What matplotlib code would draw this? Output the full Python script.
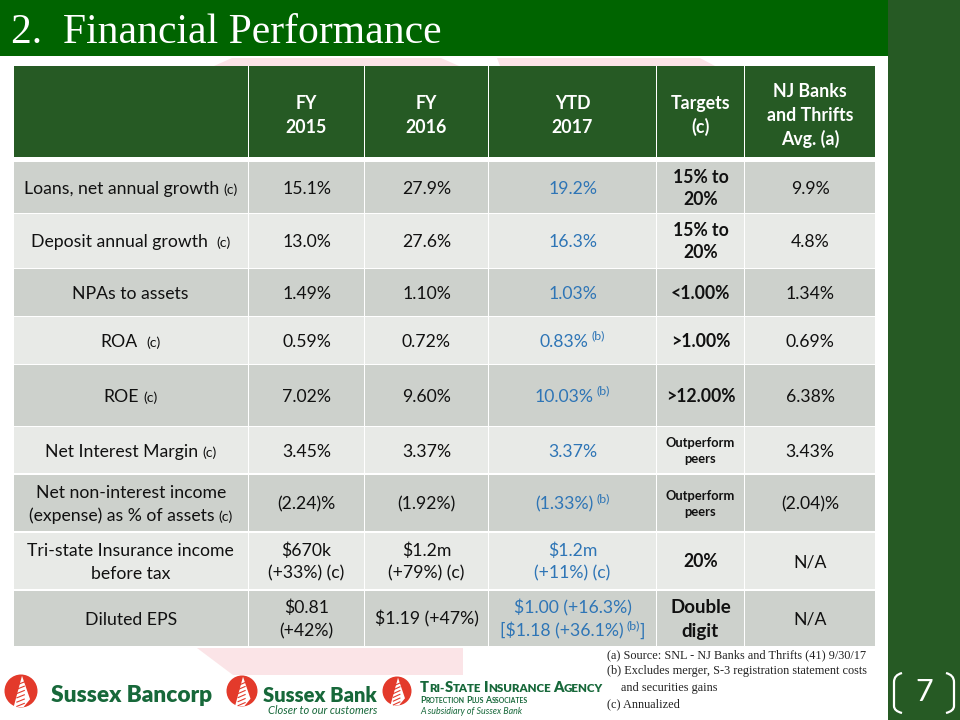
import re
import matplotlib
matplotlib.use("Agg")
import matplotlib.pyplot as plt
from matplotlib.patches import Rectangle, Polygon, Circle, PathPatch
from matplotlib.path import Path

# ---------------- data ----------------
title = "2.  Financial Performance"
col_headers = ["", "FY\n2015", "FY\n2016", "YTD\n2017", "Targets\n(c)",
               "NJ Banks\nand Thrifts\nAvg. (a)"]
row_labels = ["Loans, net annual growth _(c)",
              "Deposit annual growth  _(c)",
              "NPAs to assets",
              "ROA  _(c)",
              "ROE _(c)",
              "Net Interest Margin _(c)",
              "Net non-interest income\n(expense) as % of assets _(c)",
              "Tri-state Insurance income\nbefore tax",
              "Diluted EPS"]
fy2015 = ["15.1%", "13.0%", "1.49%", "0.59%", "7.02%", "3.45%", "(2.24)%",
          "$670k\n(+33%) (c)", "$0.81\n(+42%)"]
fy2016 = ["27.9%", "27.6%", "1.10%", "0.72%", "9.60%", "3.37%", "(1.92%)",
          "$1.2m\n(+79%) (c)", "$1.19 (+47%)"]
ytd2017 = ["19.2%", "16.3%", "1.03%", "0.83% ^(b)", "10.03% ^(b)", "3.37%",
           "(1.33%) ^(b)", "$1.2m\n(+11%) (c)",
           "$1.00 (+16.3%)\n[$1.18 (+36.1%) ^(b)]"]
targets = ["15% to\n20%", "15% to\n20%", "<1.00%", ">1.00%", ">12.00%",
           "Outperform\npeers", "Outperform\npeers", "20%", "Double\ndigit"]
nj_avg = ["9.9%", "4.8%", "1.34%", "0.69%", "6.38%", "3.43%", "(2.04)%",
          "N/A", "N/A"]
footnotes = ["(a) Source: SNL - NJ Banks and Thrifts (41) 9/30/17",
             "(b) Excludes merger, S-3 registration statement costs",
             "and securities gains",
             "(c) Annualized"]
page_number = "7"

# ---------------- layout / style ----------------
W, H = 960, 720
col_x = [13, 248.5, 364.5, 488.5, 656.5, 744.5, 876]
header_y = (66, 157)
row_edges = [161, 213.5, 268.5, 316.5, 364.5, 426.5, 474, 532, 590, 647]
GAP = 0.8

C_TITLE = "#006400"
C_DARK = "#265a24"
C_ODD = "#cdd1cc"
C_EVEN = "#e8eae7"
C_BLUE = "#2e75b6"
C_TXT = "#111111"
C_LOGO = "#17683a"
C_RED = "#e33a2b"
C_PINK = "#fbe4e7"
SANS = ["Lato", "DejaVu Sans"]
SERIF = ["Liberation Serif", "DejaVu Serif"]

fig = plt.figure(figsize=(9.6, 7.2), dpi=100)
ax = fig.add_axes([0, 0, 1, 1])
ax.set_xlim(0, W)
ax.set_ylim(H, 0)
ax.axis("off")
renderer = fig.canvas.get_renderer()
PX = 100 / 72.0


def text_width(s, props):
    t = ax.text(0, 0, s, **props)
    w = t.get_window_extent(renderer).width
    t.remove()
    return w


def space_width(props):
    return text_width("a a", props) - text_width("aa", props)


def measure_runs(runs):
    pieces = []
    total = 0
    for s, props, dy in runs:
        lead = len(s) - len(s.lstrip(" "))
        trail = len(s) - len(s.rstrip(" "))
        core = s.strip(" ")
        sp = space_width(props) if (lead or trail) else 0
        w = text_width(core, props) if core else 0
        pieces.append((lead * sp, core, props, dy, w, trail * sp))
        total += lead * sp + w + trail * sp
    return pieces, total


def draw_runs(x, baseline, runs, ha="center", z=5):
    pieces, total = measure_runs(runs)
    cx = x - total / 2 if ha == "center" else x
    for lead, core, props, dy, w, trail in pieces:
        cx += lead
        if core:
            ax.text(cx, baseline + dy, core, ha="left", va="baseline",
                    zorder=z, **props)
        cx += w + trail
    return total


def parse_line(s, props):
    size = props["fontsize"]
    runs = []
    for p in re.split(r"([\^_]\([a-z]\))", s):
        if not p:
            continue
        if p.startswith("^"):
            pp = dict(props, fontsize=size * 0.7)
            lead = ""
            if runs and runs[-1][0].endswith(" "):
                runs[-1] = (runs[-1][0].rstrip(" "), runs[-1][1], runs[-1][2])
                lead = " "
            runs.append((lead + p[1:], pp, -0.42 * size * PX))
        elif p.startswith("_"):
            pp = dict(props, fontsize=size * 0.8)
            runs.append((p[1:], pp, 0))
        else:
            runs.append((p, props, 0))
    return runs


def draw_cell(cx, cy, text, props, spacing):
    lines = text.split("\n")
    n = len(lines)
    cap_half = 0.358 * props["fontsize"] * PX
    for i, line in enumerate(lines):
        base = cy + cap_half + (i - (n - 1) / 2.0) * spacing
        draw_runs(cx, base, parse_line(line, props))


# ---------------- background watermark ----------------
for pts in ([(214, 66), (232, 58), (441, 58), (459, 66)],
            [(500, 66), (497, 58), (700, 58), (715, 66)],
            [(197, 648), (463, 648), (463, 675), (233, 675)]):
    ax.add_patch(Polygon(pts, closed=True, fc=C_PINK, ec="none", zorder=0))

# ---------------- title bar & right strip ----------------
ax.add_patch(Rectangle((0, 0), 888, 56, fc=C_TITLE, ec="none", zorder=1))
ax.add_patch(Rectangle((888, 0), 72, 720, fc=C_DARK, ec="none", zorder=1))
ax.text(11, 43, title, family=SERIF, fontsize=30, color="white",
        ha="left", va="baseline", zorder=5)

# ---------------- table ----------------
n_cols = len(col_x) - 1
for j in range(n_cols):
    x0, x1 = col_x[j] + GAP, col_x[j + 1] - GAP
    ax.add_patch(Rectangle((x0, header_y[0]), x1 - x0, header_y[1] - header_y[0],
                           fc=C_DARK, ec="none", zorder=2))
    if col_headers[j]:
        draw_cell((col_x[j] + col_x[j + 1]) / 2, 114.5, col_headers[j],
                  dict(family=SANS, fontsize=12.8, color="white", weight="bold"),
                  24)

columns = [row_labels, fy2015, fy2016, ytd2017, targets, nj_avg]
for i in range(len(row_labels)):
    y0, y1 = row_edges[i] + GAP, row_edges[i + 1] - GAP
    cy = (row_edges[i] + row_edges[i + 1]) / 2
    fc = C_ODD if i % 2 == 0 else C_EVEN
    for j in range(n_cols):
        x0, x1 = col_x[j] + GAP, col_x[j + 1] - GAP
        ax.add_patch(Rectangle((x0, y0), x1 - x0, y1 - y0, fc=fc, ec="none",
                               zorder=2))
        cx = (col_x[j] + col_x[j + 1]) / 2
        txt = columns[j][i]
        props = dict(family=SANS, fontsize=12.7, color=C_TXT)
        spacing = 23
        if j == 3:
            props["color"] = C_BLUE
        if j == 4:
            props["weight"] = "bold"
            spacing = 22
            if txt.startswith("Outperform"):
                props["fontsize"] = 9.3
                spacing = 16
            elif txt.startswith("Double"):
                props["fontsize"] = 13.5
                spacing = 24
        draw_cell(cx, cy, txt, props, spacing)

# ---------------- footnotes ----------------
fn_y = [655, 671, 688, 704]
fn_x = [607, 607, 621, 607]
for s, x, y in zip(footnotes, fn_x, fn_y):
    ax.text(x, y, s, family=SERIF, fontsize=8.8, color="#222222",
            ha="left", va="center", zorder=5)

# ---------------- page number ----------------
for sgn, xe in ((1, 894), (-1, 954)):
    verts = [(xe + sgn * 8, 673), (xe, 675), (xe, 682), (xe, 706),
             (xe, 711), (xe + sgn * 8, 713)]
    codes = [Path.MOVETO, Path.CURVE3, Path.CURVE3, Path.LINETO,
             Path.CURVE3, Path.CURVE3]
    ax.add_patch(PathPatch(Path(verts, codes), fc="none", ec="white", lw=1.6,
                           zorder=5))
ax.text(924, 692, page_number, family=SANS, fontsize=22,
        color="white", ha="center", va="center", zorder=5)


# ---------------- logos ----------------
def icon(cx, cy, r):
    ax.add_patch(Circle((cx, cy), r, fc=C_RED, ec="none", zorder=4))
    tree = [(cx + 1, cy - r * 0.92), (cx - r * 0.45, cy + r * 0.98),
            (cx + r * 0.15, cy + r * 0.98), (cx + r * 0.55, cy + r * 0.5)]
    ax.add_patch(Polygon(tree, closed=True, fc="white", ec="none", zorder=4))
    for k in range(6):
        yy = cy - r * 0.55 + k * r * 0.26
        ax.plot([cx - r * 0.25, cx + r * 0.2], [yy + 3, yy], color=C_RED,
                lw=0.8, zorder=4)


def fit_text(x0, x1, baseline, s, props):
    w = text_width(s, props)
    p = dict(props, fontsize=props["fontsize"] * (x1 - x0) / w)
    ax.text(x0, baseline, s, ha="left", va="baseline", zorder=5, **p)


def small_caps(x0, x1, baseline, s, big, small, props):
    runs = []
    for ch in s:
        size = big if (ch.isupper() or ch.isdigit()) else small
        c = ch.upper()
        if runs and runs[-1][1]["fontsize"] == size:
            runs[-1] = (runs[-1][0] + c, runs[-1][1], 0)
        else:
            runs.append((c, dict(props, fontsize=size), 0))
    _, total = measure_runs(runs)
    k = (x1 - x0) / total
    runs = [(t, dict(p, fontsize=p["fontsize"] * k), 0) for t, p, _ in runs]
    draw_runs(x0, baseline, runs, ha="left")


icon(21, 691, 16.5)
icon(242, 691, 15.5)
icon(397, 691, 14.5)
logo_props = dict(family=SANS, fontsize=16, weight="heavy", color=C_LOGO)
fit_text(51, 212, 702, "Sussex Bancorp", logo_props)
fit_text(263, 377, 702, "Sussex Bank", logo_props)
fit_text(268, 377, 714, "Closer to our customers",
         dict(family=SANS, fontsize=7, style="italic", color=C_LOGO))
small_caps(420, 603, 692, "Tri-State Insurance Agency", 11, 8.5,
           dict(family=SANS, weight="heavy", color=C_LOGO))
small_caps(420, 527, 703, "Protection Plus Associates", 7, 5.5,
           dict(family=SANS, weight="bold", color=C_LOGO))
fit_text(420, 522, 714, "A subsidiary of Sussex Bank",
         dict(family=SANS, fontsize=7, style="italic", color=C_LOGO))

fig.savefig("out.png", dpi=100, facecolor="white")
